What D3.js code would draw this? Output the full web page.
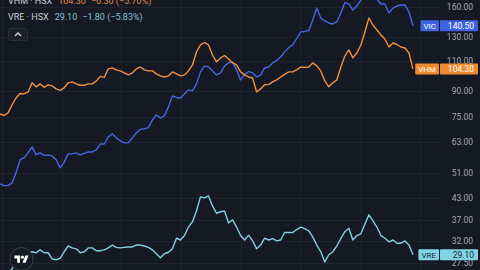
<!DOCTYPE html>
<html><head><meta charset="utf-8">
<script src="https://cdn.jsdelivr.net/npm/d3@7"></script>
<style>html,body{margin:0;padding:0;background:#151924;overflow:hidden}</style>
</head><body><svg id="c" width="480" height="270"></svg>
<script>
// trading-day index (categories)
const days = d3.range(104);
// VIC · HSX closes
const vic = [47.4,46.8,46.8,47.7,51.1,55.9,56.7,58.6,61.1,57.8,
58.6,57.6,57.8,57.4,55.9,52.9,54.9,58.2,58.2,58.6,
57.8,58.4,59.0,59.0,59.8,62.3,62.3,65.4,66.8,65.0,
63.7,62.8,62.8,65.0,67.2,68.9,69.2,69.7,73.5,76.1,
74.5,75.6,80.4,86.7,85.8,85.5,87.9,90.4,89.8,94.2,
102.3,106.6,105.8,103.0,100.2,101.6,106.6,108.8,109.6,103.7,
96.8,100.2,102.6,101.6,98.8,100.2,105.1,105.8,108.8,110.7,
113.3,117.4,121.0,123.1,128.7,134.6,135.1,136.0,146.2,158.7,
148.2,145.2,143.2,142.2,144.2,153.4,164.8,163.2,156.5,160.9,
167.7,173.5,177.1,174.7,168.9,163.2,163.2,153.4,158.7,160.9,
162.0,162.0,154.4,140.5];
// VHM · HSX closes
const vhm = [76.6,75.8,77.2,81.5,85.5,88.2,87.9,89.1,94.9,92.3,
94.2,92.0,93.6,92.9,91.0,90.1,91.7,94.9,95.5,94.2,
93.3,93.3,94.2,94.2,96.1,99.2,98.5,104.4,105.1,103.7,
103.0,101.6,100.2,101.6,104.4,105.8,103.7,103.0,103.0,100.9,
99.5,98.8,99.5,102.3,100.9,99.5,100.2,103.0,107.3,117.3,
123.1,125.2,123.1,114.9,109.6,112.6,114.5,111.8,108.8,107.3,
102.3,100.2,98.8,98.1,89.1,91.0,93.6,93.9,95.5,96.8,
98.8,100.5,102.3,102.3,103.7,105.8,105.5,105.8,108.8,106.6,
103.0,96.1,92.3,94.9,96.8,105.8,114.1,119.0,112.6,116.5,
123.1,134.6,148.2,141.2,136.5,131.9,128.3,121.4,124.8,123.5,
121.4,120.6,116.5,104.3];
// VRE · HSX closes
const vre = [25.3,25.5,25.7,26.4,27.7,28.5,29.1,29.5,29.7,29.5,
30.1,29.5,29.5,28.3,28.1,28.4,29.7,30.9,30.5,30.3,
29.5,29.7,30.5,30.5,29.9,29.9,30.1,30.5,31.1,30.6,
30.5,30.6,30.7,30.7,31.1,31.1,30.9,30.6,30.1,29.3,
28.5,29.3,29.6,30.3,32.6,32.2,33.2,35.2,36.5,39.3,
43.3,43.0,43.6,40.7,38.7,39.1,39.3,36.2,37.0,35.2,
33.2,32.2,33.3,32.0,30.3,31.1,32.6,32.2,32.5,32.0,
32.2,33.9,33.9,33.9,34.6,35.2,34.8,34.3,32.9,31.1,
29.7,27.7,29.1,29.7,30.9,32.5,34.1,34.9,32.2,33.2,
33.6,35.9,38.3,36.7,35.2,33.2,32.6,31.8,32.2,31.5,
31.5,32.0,31.1,29.1];
const priceTicks = [160,130,110,90,75,63,51,43,37,32,27.5];
const timeGridDays = [0.5,15.5,30.2,45.1,60.1,74.8,90.0,104.7];
const names = ["VIC","VHM","VRE"];
const lastPrices = ["140.50","104.30","29.10"];
const changes = ["","−6.30 (−5.70%)","−1.80 (−5.83%)"];

const W=480,H=270, paneRight=440;
const svg=d3.select("#c");
svg.append("rect").attr("width",W).attr("height",H).attr("fill","#151924");

const x=d3.scaleLinear().domain([0,103]).range([0,413]);
const y=d3.scaleLog().domain([26.2,167.7]).range([270,0]);

const grid=svg.append("g");
grid.selectAll(".h").data(priceTicks).join("line")
  .attr("x1",0).attr("x2",paneRight).attr("y1",d=>Math.round(y(d))+0.5).attr("y2",d=>Math.round(y(d))+0.5)
  .attr("stroke","#1f2330").attr("stroke-width",1);
grid.selectAll(".v").data(timeGridDays).join("line")
  .attr("x1",d=>Math.round(x(d))+0.5).attr("x2",d=>Math.round(x(d))+0.5).attr("y1",0).attr("y2",H)
  .attr("stroke","#1f2330").attr("stroke-width",1);

const series=[
 {name:names[0],values:vic,color:"#4466e4",box:"#3d62e0",txt:"#ffffff",last:lastPrices[0]},
 {name:names[1],values:vhm,color:"#f0903c",box:"#f08a2e",txt:"#ffffff",last:lastPrices[1]},
 {name:names[2],values:vre,color:"#82cfdf",box:"#80d4e6",txt:"#1a2a33",last:lastPrices[2]}
];
const line=d3.line().x((d,i)=>x(days[i])).y(d=>y(d));
svg.append("g").selectAll("path").data(series).join("path")
  .attr("d",s=>line(s.values)).attr("fill","none").attr("stroke",s=>s.color)
  .attr("stroke-width",1.4).attr("stroke-linejoin","round");

// price axis labels
const font="Roboto, 'Noto Sans', sans-serif";
svg.append("g").selectAll("text").data(priceTicks).join("text")
  .attr("x",473).attr("y",d=>y(d)+3).attr("text-anchor","end")
  .attr("font-family",font).attr("font-size",8.5).attr("fill","#a7aab3")
  .text(d=>d3.format(".2f")(d));

// last value labels
const lab=svg.append("g").selectAll("g").data(series).join("g")
  .attr("transform",s=>`translate(0,${y(s.values[s.values.length-1])})`);
lab.each(function(s){
  const g=d3.select(this);
  const t=g.append("text").attr("font-family",font).attr("font-size",8).text(s.name);
  const w=t.node().getComputedTextLength();
  g.insert("rect","text").attr("x",439-w-6).attr("y",-5.5).attr("width",w+6).attr("height",11).attr("fill",s.box).attr("rx",1);
  t.attr("x",439-w-3).attr("y",3).attr("fill",s.txt);
  g.append("rect").attr("x",440).attr("y",-5.5).attr("width",38).attr("height",11).attr("fill",s.box).attr("rx",1);
  g.append("text").attr("x",474).attr("y",3).attr("text-anchor","end").attr("font-family",font)
   .attr("font-size",8.5).attr("fill",s.txt).text(s.last);
});

// legend (header)
const legend=svg.append("g").attr("font-family",font).attr("font-size",9);
[[1,4],[2,19.5]].forEach(([i,by])=>{
  const s=series[i];
  const t=legend.append("text").attr("x",8).attr("y",by);
  t.append("tspan").attr("fill","#c9ccd3").text(s.name+" · HSX");
  t.append("tspan").attr("fill",i===1?"#e0883e":"#7fc3d2").attr("dx",6).text(s.last);
  t.append("tspan").attr("fill",i===1?"#e0883e":"#7fc3d2").attr("dx",5).text(changes[i]);
});
// collapse button
svg.append("rect").attr("x",8.5).attr("y",28.5).attr("width",19).attr("height",12).attr("rx",2)
  .attr("fill","#1b1f2b").attr("stroke","#2a2e3a");
svg.append("path").attr("d","M15,36 L18,33 L21,36").attr("fill","none").attr("stroke","#d1d4dc").attr("stroke-width",1.3);

// TradingView logo
svg.append("circle").attr("cx",21.5).attr("cy",259).attr("r",11.5).attr("fill","#151924").attr("stroke","#3b3f4b").attr("stroke-width",1);
const logo=svg.append("g").attr("transform","translate(14.4,254) scale(0.4)").attr("fill","#ffffff");
logo.append("path").attr("d","M14 22H7V11H0V4h14v18zM28 22h-8l7.5-18h8L28 22z");
logo.append("circle").attr("cx",20).attr("cy",8).attr("r",4);
</script></body></html>
